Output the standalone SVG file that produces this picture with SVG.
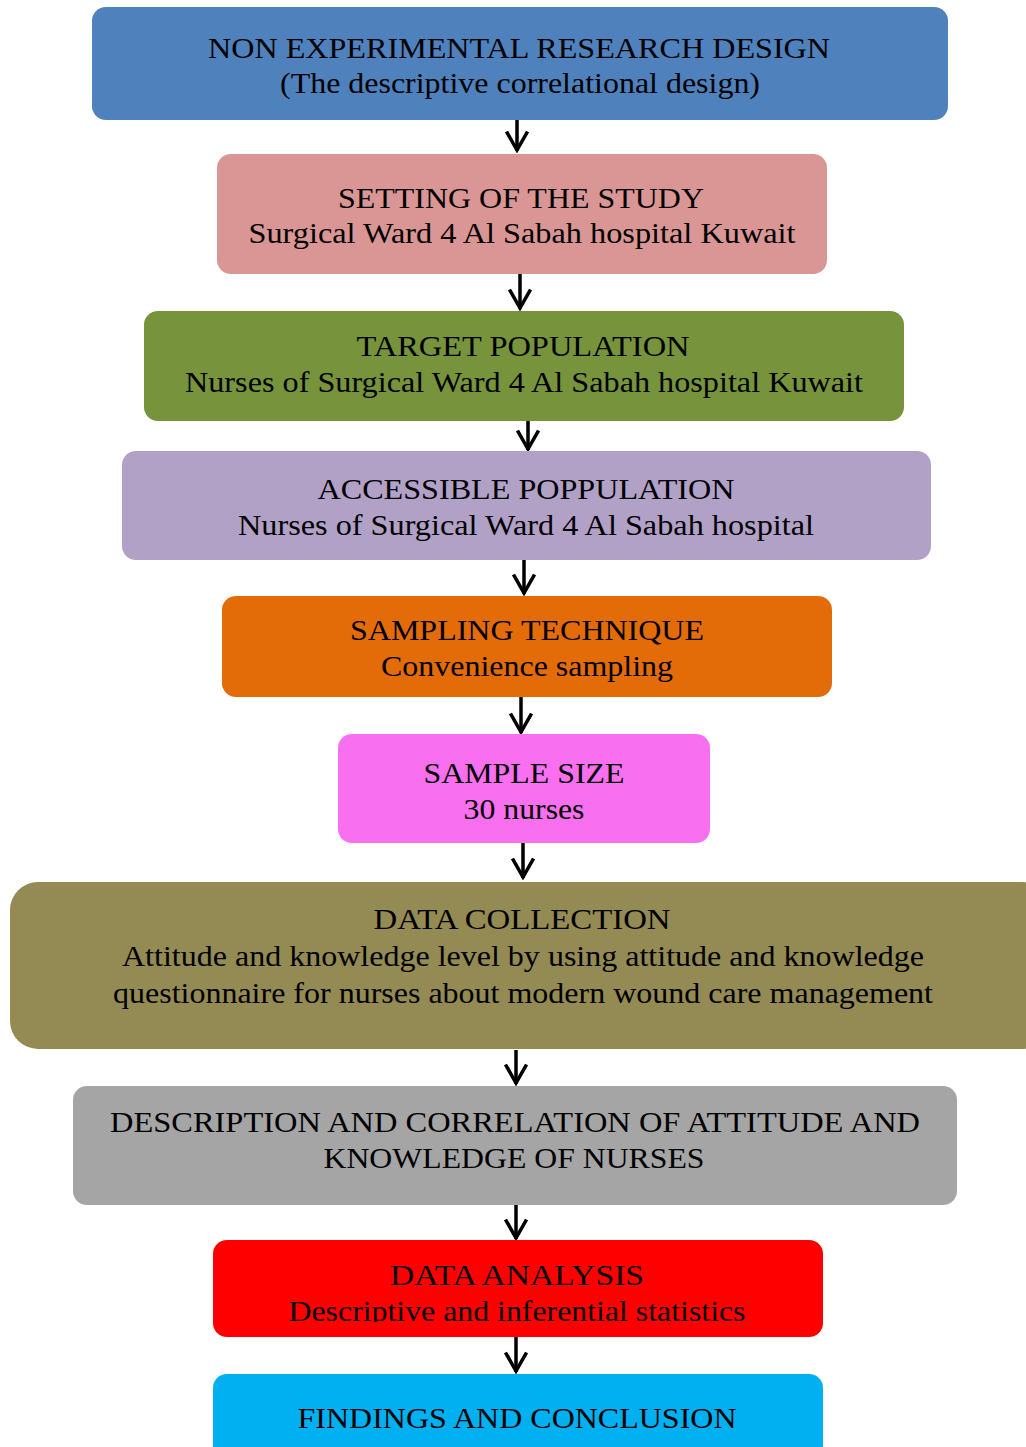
<svg xmlns="http://www.w3.org/2000/svg" width="1026" height="1447" viewBox="0 0 1026 1447">
<style>
text{font-family:"Liberation Serif","Times New Roman",serif;font-size:29px;fill:#000;text-anchor:middle}
.c{stroke:#000;stroke-width:3.5;fill:none}
</style>
<defs>
<marker id="ah" viewBox="0 0 23 24" refX="21" refY="12" markerWidth="23" markerHeight="24" orient="auto" markerUnits="userSpaceOnUse">
<path d="M1.5,1.5 L20,12 L1.5,22.5" fill="none" stroke="#000" stroke-width="3.5"/>
</marker>
<clipPath id="clipDA"><rect x="213" y="1240" width="610" height="82"/></clipPath>
</defs>
<rect width="1026" height="1447" fill="#fff"/>
<g id="connectors">
<line class="c" x1="517" y1="120" x2="517" y2="151" marker-end="url(#ah)"/>
<line class="c" x1="520" y1="274" x2="520" y2="309" marker-end="url(#ah)"/>
<line class="c" x1="528" y1="421" x2="528" y2="450" marker-end="url(#ah)"/>
<line class="c" x1="524" y1="560" x2="524" y2="594" marker-end="url(#ah)"/>
<line class="c" x1="521" y1="697" x2="521" y2="733" marker-end="url(#ah)"/>
<line class="c" x1="523" y1="843" x2="523" y2="878" marker-end="url(#ah)"/>
<line class="c" x1="516" y1="1050" x2="516" y2="1084" marker-end="url(#ah)"/>
<line class="c" x1="516" y1="1205" x2="516" y2="1239" marker-end="url(#ah)"/>
<line class="c" x1="516" y1="1337" x2="516" y2="1372" marker-end="url(#ah)"/>
</g>
<g id="n1">
<rect x="92" y="7" width="856" height="113" rx="14" fill="#4F81BD"/>
<text x="519" y="58" textLength="622" lengthAdjust="spacingAndGlyphs">NON EXPERIMENTAL RESEARCH DESIGN</text>
<text x="520" y="93" textLength="480" lengthAdjust="spacingAndGlyphs">(The descriptive correlational design)</text>
</g>
<g id="n2">
<rect x="217" y="154" width="610" height="120" rx="14" fill="#D99694"/>
<text x="521" y="208" textLength="366" lengthAdjust="spacingAndGlyphs">SETTING OF THE STUDY</text>
<text x="522" y="243" textLength="547" lengthAdjust="spacingAndGlyphs">Surgical Ward 4 Al Sabah hospital Kuwait</text>
</g>
<g id="n3">
<rect x="144" y="311" width="760" height="110" rx="14" fill="#77933C"/>
<text x="523" y="356" textLength="333" lengthAdjust="spacingAndGlyphs">TARGET POPULATION</text>
<text x="524" y="392" textLength="678" lengthAdjust="spacingAndGlyphs">Nurses of Surgical Ward 4 Al Sabah hospital Kuwait</text>
</g>
<g id="n4">
<rect x="122" y="451" width="809" height="109" rx="14" fill="#B2A1C7"/>
<text x="526" y="499" textLength="417" lengthAdjust="spacingAndGlyphs">ACCESSIBLE POPPULATION</text>
<text x="526" y="535" textLength="576" lengthAdjust="spacingAndGlyphs">Nurses of Surgical Ward 4 Al Sabah hospital</text>
</g>
<g id="n5">
<rect x="222" y="596" width="610" height="101" rx="14" fill="#E36C09"/>
<text x="527" y="640" textLength="354" lengthAdjust="spacingAndGlyphs">SAMPLING TECHNIQUE</text>
<text x="527" y="676" textLength="292" lengthAdjust="spacingAndGlyphs">Convenience sampling</text>
</g>
<g id="n6">
<rect x="338" y="734" width="372" height="109" rx="14" fill="#F870F0"/>
<text x="524" y="783" textLength="201" lengthAdjust="spacingAndGlyphs">SAMPLE SIZE</text>
<text x="524" y="819" textLength="121" lengthAdjust="spacingAndGlyphs">30 nurses</text>
</g>
<g id="n7">
<rect x="10" y="882" width="1040" height="167" rx="28" fill="#948A54"/>
<text x="522" y="929" textLength="297" lengthAdjust="spacingAndGlyphs">DATA COLLECTION</text>
<text x="523" y="966" textLength="802" lengthAdjust="spacingAndGlyphs">Attitude and knowledge level by using attitude and knowledge</text>
<text x="523" y="1003" textLength="820" lengthAdjust="spacingAndGlyphs">questionnaire for nurses about modern wound care management</text>
</g>
<g id="n8">
<rect x="73" y="1086" width="884" height="119" rx="14" fill="#A5A5A5"/>
<text x="515" y="1132" textLength="810" lengthAdjust="spacingAndGlyphs">DESCRIPTION AND CORRELATION OF ATTITUDE AND</text>
<text x="514" y="1168" textLength="381" lengthAdjust="spacingAndGlyphs">KNOWLEDGE OF NURSES</text>
</g>
<g id="n9">
<rect x="213" y="1240" width="610" height="97" rx="14" fill="#FF0000"/>
<text x="517" y="1285" textLength="254" lengthAdjust="spacingAndGlyphs">DATA ANALYSIS</text>
<text x="517" y="1321" textLength="457" lengthAdjust="spacingAndGlyphs" clip-path="url(#clipDA)">Descriptive and inferential statistics</text>
</g>
<g id="n10">
<rect x="213" y="1374" width="610" height="100" rx="14" fill="#00B0F0"/>
<text x="517" y="1428" textLength="439" lengthAdjust="spacingAndGlyphs">FINDINGS AND CONCLUSION</text>
</g>
</svg>
